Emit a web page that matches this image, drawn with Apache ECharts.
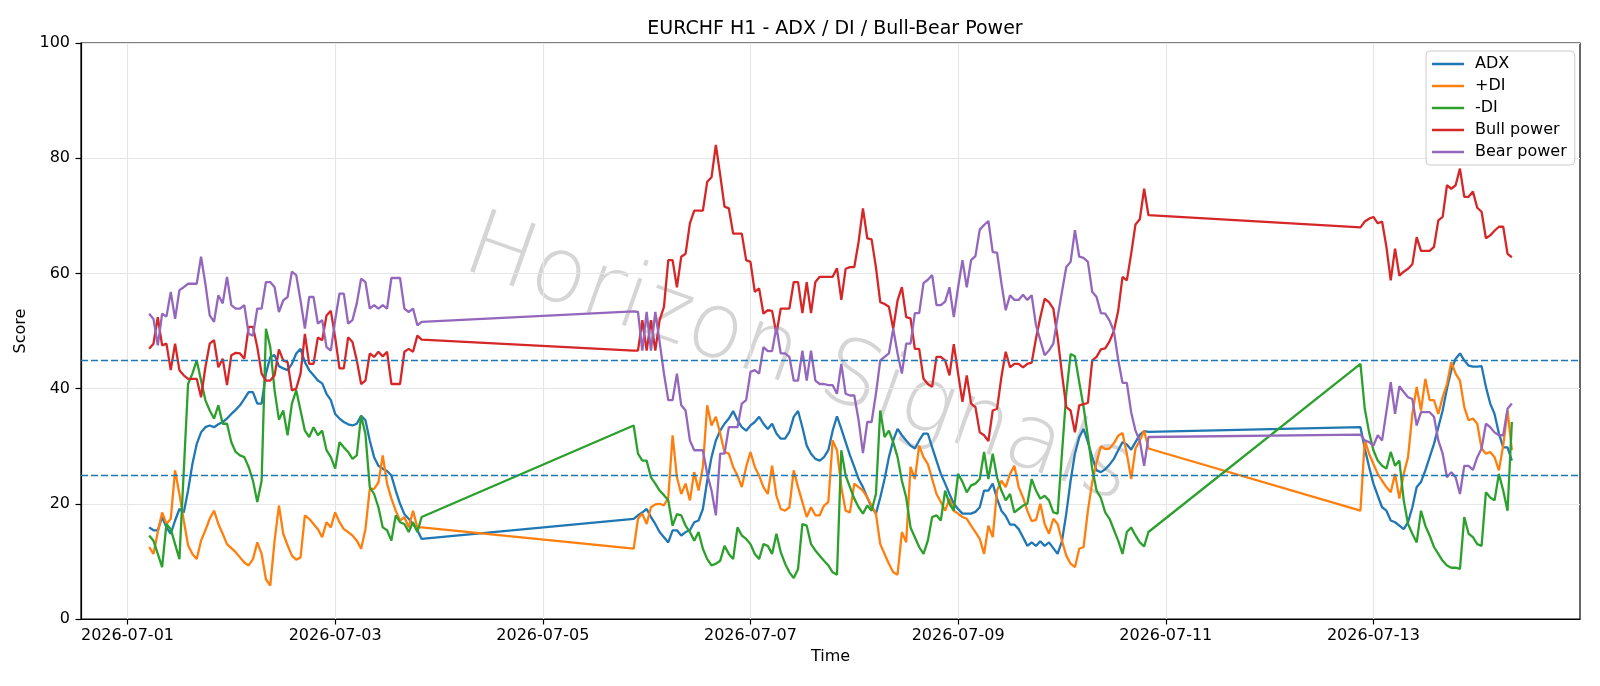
<!DOCTYPE html>
<html>
<head>
<meta charset="utf-8">
<script src="https://cdn.jsdelivr.net/npm/echarts@6/dist/echarts.min.js"></script>
<style>
  html, body { margin: 0; padding: 0; background: #fff; }
  #chart { width: 1600px; height: 686px; }
</style>
</head>
<body>
<div id="chart"></div>
<script>
const seriesNames = ['ADX', '+DI', '-DI', 'Bull power', 'Bear power'];
const seriesColors = ['#1f77b4', '#ff7f0e', '#2ca02c', '#d62728', '#9467bd'];
// hourly bars in three sessions: [first bar (UTC), number of bars]
const sessions = [['2026-07-01T05:00:00Z', 64], ['2026-07-05T21:00:00Z', 120], ['2026-07-12T21:00:00Z', 36]];
const xTickDates = ['2026-07-01', '2026-07-03', '2026-07-05', '2026-07-07', '2026-07-09', '2026-07-11', '2026-07-13'];
const levels = [25, 45];
const watermark = 'Horizon Signals';

const adx = [
  15.9, 15.4, 15.4, 17.7, 15.9, 14.8, 17.1, 19.1, 18.5, 22.3, 26.9, 30.4, 32.4, 33.3, 33.6, 33.3, 33.8, 34.2, 34.8, 35.6,
  36.3, 37.1, 38.2, 39.4, 39.4, 37.4, 37.4, 42.6, 45.5, 45.8, 43.9, 43.5, 43.2, 44.3, 46.1, 46.9, 44.6, 43.2, 42.3, 41.4,
  40.9, 39.1, 38.0, 35.6, 34.8, 34.2, 33.8, 33.6, 33.9, 35.3, 34.5, 31.0, 28.1, 26.6, 26.1, 25.7, 24.9, 22.3, 20.0, 18.2,
  17.4, 16.5, 15.4, 13.9,
  17.4, 18.0, 18.5, 19.1, 17.7, 16.5, 15.1, 14.2, 13.3, 15.4, 15.4, 14.5, 15.1, 15.4, 16.8, 17.1, 19.1, 24.0, 28.1, 31.0,
  32.7, 33.9, 34.8, 36.1, 34.5, 33.3, 32.7, 33.6, 34.2, 35.1, 33.9, 33.0, 33.9, 32.2, 31.3, 31.3, 32.5, 35.1, 36.1, 33.3,
  30.1, 28.7, 27.8, 27.5, 28.1, 29.3, 32.7, 35.2, 33.0, 30.7, 28.4, 26.4, 24.3, 22.9, 21.1, 19.4, 18.3, 21.1, 24.3, 28.1,
  31.0, 33.0, 31.9, 31.0, 30.1, 29.6, 31.0, 32.2, 32.2, 29.8, 27.5, 25.2, 23.5, 21.7, 20.0, 19.1, 18.3, 18.3, 18.3, 18.6,
  19.4, 22.3, 22.3, 23.5, 20.9, 18.8, 17.9, 16.4, 16.4, 15.6, 14.2, 12.7, 13.3, 12.7, 13.5, 12.7, 13.3, 12.3, 11.3, 13.5,
  18.3, 24.0, 28.7, 31.6, 33.0, 30.7, 28.1, 25.8, 25.5, 26.0, 26.8, 27.8, 29.3, 30.7, 30.3, 29.4, 30.7, 32.0, 32.6, 32.5,
  33.3, 29.6, 26.4, 23.5, 21.4, 19.4, 18.8, 17.1, 16.8, 16.2, 15.6, 16.8, 19.4, 22.9, 23.8, 25.8, 28.1, 30.4, 33.3, 36.2,
  40.0, 43.2, 45.2, 46.1, 44.9, 44.0, 43.8, 43.8, 43.9, 40.3, 37.4, 35.6, 32.2, 29.8, 29.8, 27.5
];
const plusDi = [
  12.5, 11.3, 15.1, 18.5, 16.5, 17.4, 25.8, 21.7, 17.1, 12.8, 11.3, 10.4, 13.6, 15.4, 17.4, 18.8, 16.5, 14.8, 13.0, 12.3,
  11.6, 10.7, 9.8, 9.3, 10.4, 13.3, 11.3, 6.9, 5.8, 13.6, 19.7, 14.8, 12.8, 11.0, 10.3, 10.7, 18.0, 17.4, 16.5, 15.6,
  14.2, 16.8, 15.9, 18.5, 16.8, 15.6, 15.1, 14.5, 13.6, 12.2, 15.6, 22.6, 22.6, 23.7, 28.4, 23.5, 20.9, 18.8, 17.1, 17.7,
  15.9, 18.8, 15.9, 15.9,
  12.2, 17.4, 18.3, 16.5, 19.4, 19.9, 20.0, 19.7, 21.1, 31.9, 24.6, 21.7, 23.5, 20.6, 25.5, 22.3, 26.4, 37.1, 33.6, 35.1,
  32.2, 29.0, 28.7, 26.4, 24.9, 22.9, 26.4, 29.0, 26.4, 24.9, 22.9, 21.7, 26.6, 21.4, 19.1, 18.8, 19.4, 25.8, 22.9, 20.3,
  17.7, 19.4, 18.0, 18.0, 19.7, 20.3, 31.0, 29.3, 22.9, 18.8, 18.5, 23.5, 22.9, 22.3, 21.1, 19.7, 18.3, 13.0, 11.3, 9.6,
  8.1, 7.7, 15.1, 13.3, 26.4, 24.3, 30.1, 28.1, 26.9, 24.3, 21.7, 20.3, 18.8, 20.9, 18.8, 18.3, 17.7, 17.4, 16.2, 15.1,
  13.9, 11.3, 16.2, 14.2, 22.3, 24.0, 22.9, 25.2, 26.6, 22.9, 21.1, 18.8, 17.0, 17.2, 20.0, 16.5, 14.8, 17.4, 16.5, 13.6,
  11.0, 9.6, 9.0, 12.2, 12.5, 18.8, 23.8, 27.2, 30.0, 29.5, 29.6, 30.5, 31.8, 32.3, 28.7, 24.3, 29.6, 31.0, 32.7, 29.6,
  18.8, 31.0, 28.7, 26.9, 25.2, 24.0, 22.9, 22.0, 25.2, 20.9, 25.2, 28.1, 35.6, 40.3, 36.2, 41.7, 38.0, 38.0, 35.6, 38.5,
  40.8, 44.6, 42.6, 41.4, 36.8, 34.5, 34.8, 33.9, 29.6, 28.7, 29.0, 28.1, 25.8, 30.1, 36.2, 29.3
];
const minusDi = [
  14.5, 13.6, 11.3, 9.0, 16.5, 15.6, 13.0, 10.4, 25.6, 40.8, 42.6, 44.9, 41.4, 38.0, 36.2, 34.8, 37.1, 33.9, 33.9, 30.7,
  29.0, 28.4, 28.1, 26.4, 24.0, 20.3, 24.0, 50.4, 47.2, 39.7, 34.6, 36.2, 31.9, 37.4, 39.7, 36.2, 32.7, 31.6, 33.3, 31.9,
  32.7, 29.3, 28.1, 26.1, 30.7, 29.8, 29.0, 27.8, 28.4, 35.3, 32.1, 22.9, 21.7, 19.4, 15.9, 15.4, 13.6, 18.0, 16.8, 16.5,
  15.1, 16.8, 15.1, 17.7,
  33.6, 28.7, 27.5, 27.5, 24.6, 23.5, 22.3, 21.5, 20.6, 16.2, 18.2, 18.0, 16.2, 15.1, 13.6, 15.1, 12.2, 10.4, 9.3, 9.6,
  10.1, 12.7, 11.3, 10.4, 15.9, 14.5, 13.9, 13.0, 11.3, 10.4, 13.0, 12.7, 11.3, 14.8, 11.6, 9.6, 8.1, 7.1, 8.7, 16.5,
  16.2, 13.0, 11.9, 11.0, 10.1, 9.3, 8.1, 7.7, 29.3, 24.9, 22.9, 20.9, 19.4, 18.3, 19.7, 18.8, 21.7, 36.2, 31.6, 32.7,
  30.7, 28.1, 24.0, 21.1, 15.9, 14.2, 12.5, 11.3, 13.6, 17.7, 18.0, 17.1, 22.3, 20.0, 18.8, 25.2, 23.8, 22.0, 23.2, 23.5,
  24.3, 29.0, 24.3, 28.7, 24.6, 22.3, 20.6, 21.7, 18.5, 19.1, 19.7, 20.0, 24.3, 22.3, 20.9, 21.4, 20.6, 18.5, 18.3, 28.7,
  39.1, 46.0, 45.6, 41.1, 36.8, 31.6, 26.1, 22.3, 21.0, 18.5, 17.4, 15.5, 13.6, 11.3, 15.1, 15.9, 14.5, 13.3, 12.6, 15.1,
  44.3, 36.5, 32.4, 29.3, 27.5, 26.6, 26.1, 29.0, 26.6, 27.5, 20.6, 16.5, 14.8, 13.3, 18.8, 16.2, 14.5, 12.5, 11.3, 10.1,
  9.3, 8.9, 8.9, 8.7, 17.7, 14.8, 14.2, 13.0, 12.7, 22.0, 21.1, 20.6, 25.2, 22.3, 18.8, 34.2
];
const bullPower = [
  46.9, 47.8, 52.4, 47.5, 47.8, 43.2, 47.8, 43.2, 42.3, 41.7, 41.7, 41.7, 38.5, 43.7, 47.8, 48.4, 43.7, 45.2, 40.6, 45.8,
  46.2, 46.1, 45.2, 50.7, 50.7, 47.2, 42.6, 41.4, 41.4, 42.3, 46.8, 44.9, 44.6, 39.7, 40.0, 42.6, 49.5, 44.3, 44.3, 48.9,
  48.4, 52.7, 53.5, 48.9, 43.5, 43.5, 48.9, 48.1, 44.9, 40.8, 41.4, 46.1, 45.5, 46.4, 45.6, 46.4, 40.8, 40.8, 40.8, 46.4,
  46.9, 46.4, 49.2, 48.5,
  46.6, 46.6, 51.9, 46.6, 51.9, 46.6, 51.9, 54.2, 62.3, 62.3, 57.6, 62.9, 63.4, 68.7, 70.9, 70.9, 70.9, 75.9, 76.7, 82.3,
  77.1, 71.6, 71.3, 66.9, 66.9, 66.9, 62.3, 62.0, 56.8, 57.4, 53.0, 53.6, 53.5, 49.5, 53.9, 53.9, 53.9, 58.5, 58.5, 53.1,
  58.5, 53.1, 58.5, 59.4, 59.4, 59.4, 59.4, 60.9, 55.4, 60.8, 61.1, 61.1, 65.5, 71.3, 66.1, 65.9, 61.1, 55.0, 54.7, 54.2,
  50.4, 55.3, 57.6, 52.4, 52.2, 46.9, 46.9, 41.7, 40.8, 40.3, 45.5, 45.5, 44.9, 42.3, 47.7, 42.6, 37.7, 42.3, 37.4, 36.8,
  32.4, 31.9, 30.9, 36.2, 36.5, 42.0, 46.4, 43.7, 44.3, 44.3, 43.7, 44.3, 44.5, 48.7, 52.4, 55.6, 55.0, 53.9, 48.9, 42.6,
  36.8, 36.2, 32.4, 37.1, 37.3, 37.5, 44.9, 45.5, 46.8, 47.0, 48.2, 50.0, 53.5, 59.4, 58.8, 63.4, 68.5, 69.4, 74.7, 70.1,
  68.0, 69.0, 69.5, 69.8, 68.7, 69.0, 64.6, 58.8, 64.3, 59.6, 60.3, 60.8, 61.6, 66.3, 63.9, 63.9, 63.9, 64.6, 69.2, 69.8,
  75.3, 74.7, 75.3, 78.2, 73.3, 73.3, 74.2, 71.4, 70.7, 66.1, 66.6, 67.4, 68.1, 68.1, 63.4, 62.8
];
const bearPower = [
  53.0, 52.1, 47.5, 53.0, 52.5, 56.8, 52.1, 57.1, 57.6, 58.2, 58.2, 58.2, 62.9, 58.2, 52.7, 51.6, 56.2, 54.8, 59.4, 54.5,
  53.9, 53.9, 54.5, 49.5, 49.2, 53.9, 53.9, 58.5, 58.5, 57.6, 53.3, 55.3, 55.9, 60.3, 59.7, 55.3, 50.4, 55.9, 55.9, 51.3,
  51.9, 47.2, 46.6, 51.9, 56.5, 56.5, 51.3, 51.9, 54.8, 59.1, 58.5, 53.9, 54.5, 53.9, 54.5, 53.9, 59.2, 59.2, 59.2, 53.9,
  53.3, 53.9, 51.0, 51.6,
  53.4, 53.3, 46.6, 53.3, 46.6, 53.3, 48.1, 42.6, 38.0, 38.0, 42.6, 37.1, 36.2, 31.0, 29.3, 29.3, 29.3, 25.2, 22.3, 18.0,
  28.7, 28.7, 33.3, 33.3, 33.3, 37.4, 38.0, 42.9, 43.2, 42.6, 47.2, 46.5, 46.5, 50.7, 46.1, 46.1, 45.5, 41.4, 41.4, 46.6,
  41.4, 46.6, 41.4, 40.8, 40.8, 40.6, 40.6, 39.1, 44.3, 39.1, 38.8, 38.8, 34.5, 28.8, 34.2, 34.2, 39.1, 44.9, 45.5, 46.1,
  50.4, 46.1, 42.6, 47.8, 47.8, 53.1, 53.1, 58.3, 58.9, 59.7, 54.5, 54.5, 55.1, 57.6, 52.4, 57.6, 62.3, 57.6, 62.3, 63.0,
  67.6, 68.4, 69.1, 63.7, 63.6, 58.3, 53.6, 56.2, 55.4, 55.4, 56.3, 55.4, 56.2, 51.0, 48.4, 45.8, 46.6, 47.8, 52.4, 56.8,
  61.1, 62.0, 67.5, 62.9, 62.7, 62.0, 56.8, 55.9, 53.1, 53.0, 51.8, 50.0, 45.0, 41.0, 41.0, 35.9, 32.7, 30.9, 26.6, 31.6,
  32.0, 31.0, 30.7, 30.1, 31.9, 31.0, 36.0, 41.1, 35.6, 40.4, 39.4, 38.5, 38.2, 33.6, 35.9, 35.9, 35.9, 35.1, 31.0, 28.7,
  24.6, 25.5, 24.6, 21.7, 26.6, 26.6, 25.9, 28.1, 29.6, 33.9, 33.3, 32.4, 31.9, 31.9, 36.5, 37.4
];

const HOUR = 3600000;
const times = [];
sessions.forEach(([start, n]) => {
  const t0 = Date.parse(start);
  for (let i = 0; i < n; i++) times.push(t0 + i * HOUR);
});
const day0 = Date.parse('2026-07-01T00:00:00Z');
const xTicks = xTickDates.map(d => Date.parse(d + 'T00:00:00Z'));
const values = [adx, plusDi, minusDi, bullPower, bearPower];

const font = 'DejaVu Sans';
const chart = echarts.init(document.getElementById('chart'));

chart.setOption({
  animation: false,
  backgroundColor: '#fff',
  title: {
    text: 'EURCHF H1 - ADX / DI / Bull-Bear Power',
    left: 830, top: 15, textAlign: 'center',
    textStyle: { fontFamily: font, fontSize: 19, fontWeight: 'normal', color: '#000' },
  },
  legend: {
    data: seriesNames,
    orient: 'vertical', left: 1426, top: 51,
    icon: 'rect', itemWidth: 32, itemHeight: 2.5, itemGap: 6,
    padding: [5, 8, 5, 6],
    borderColor: '#cccccc', borderWidth: 1, borderRadius: 4,
    backgroundColor: 'rgba(255,255,255,0.8)',
    textStyle: { fontFamily: font, fontSize: 16, color: '#000', lineHeight: 16, padding: [0, 0, 0, 6] },
  },
  // faint diagonal watermark across the plot
  graphic: [{
    type: 'text', x: 798, y: 362, rotation: -0.34, z: 0, silent: true,
    style: {
      text: watermark, align: 'center', verticalAlign: 'middle',
      font: '200 91px "DejaVu Sans"',
      fill: 'rgba(150,150,150,0.4)',
      shadowColor: 'rgba(0,0,0,0.22)', shadowBlur: 2, shadowOffsetX: 4, shadowOffsetY: 4,
    },
  }],
  grid: {
    left: 81, right: 20, top: 43, bottom: 67,
    show: true, borderColor: '#000', borderWidth: 1.2,
  },
  xAxis: {
    type: 'value',
    min: day0 - 10.75 * HOUR, max: day0 + 335.75 * HOUR,
    name: 'Time', nameLocation: 'middle', nameGap: 29,
    nameTextStyle: { fontFamily: font, fontSize: 16, color: '#000' },
    axisLine: { lineStyle: { color: '#000', width: 1.2 } },
    axisTick: { customValues: xTicks, length: 5.5, lineStyle: { color: '#000', width: 1.2 } },
    axisLabel: {
      customValues: xTicks, margin: 9,
      fontFamily: font, fontSize: 16, color: '#000',
      formatter: v => new Date(v).toISOString().slice(0, 10),
    },
    splitLine: { show: true, lineStyle: { color: '#e6e6e6', width: 1.2 } },
  },
  yAxis: {
    type: 'value', min: 0, max: 100, interval: 20,
    name: 'Score', nameLocation: 'middle', nameGap: 41, nameRotate: 90,
    nameTextStyle: { fontFamily: font, fontSize: 16, color: '#000' },
    axisLine: { show: true, lineStyle: { color: '#000', width: 1.2 } },
    axisTick: { show: true, length: 5.5, lineStyle: { color: '#000', width: 1.2 } },
    axisLabel: { fontFamily: font, fontSize: 16, color: '#000', margin: 11 },
    splitLine: { show: true, lineStyle: { color: '#e6e6e6', width: 1.2 } },
  },
  series: seriesNames.map((name, k) => ({
    name, type: 'line',
    data: times.map((t, i) => [t, values[k][i]]),
    symbol: 'none', showSymbol: false,
    lineStyle: { color: seriesColors[k], width: 2.3 },
    itemStyle: { color: seriesColors[k] },
    markLine: k === 0 ? {
      silent: true, symbol: 'none', label: { show: false },
      lineStyle: { color: '#1f77b4', type: [7, 3], width: 1.4 },
      data: levels.map(v => ({ yAxis: v })),
    } : undefined,
  })),
});
</script>
</body>
</html>
